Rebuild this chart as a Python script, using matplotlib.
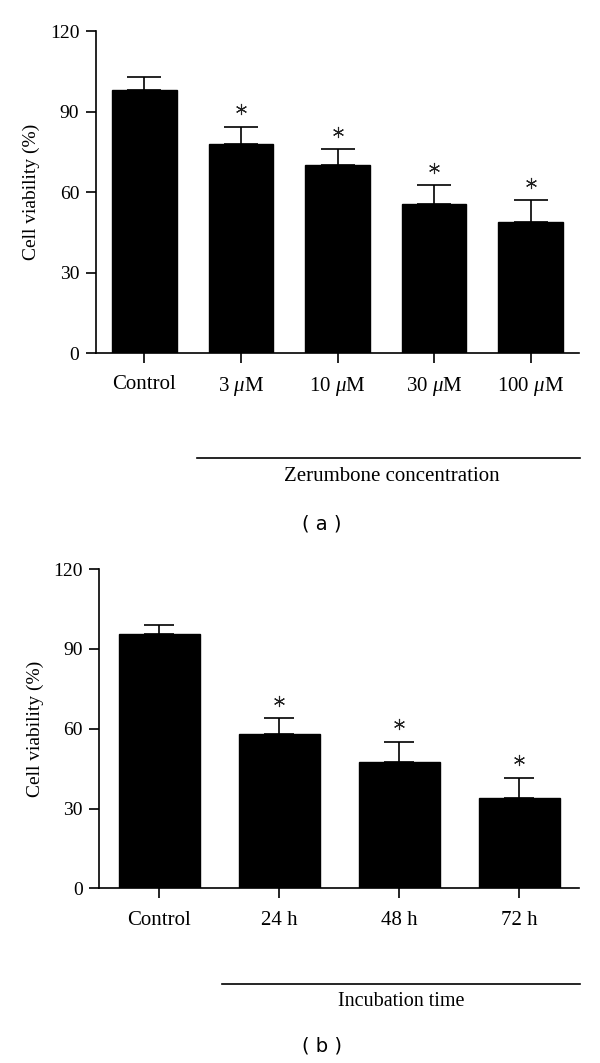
import matplotlib.pyplot as plt

plt.rcParams['font.family'] = ['Liberation Serif', 'DejaVu Serif']
plt.rcParams['mathtext.fontset'] = 'custom'
plt.rcParams['mathtext.rm'] = 'Liberation Serif'
plt.rcParams['mathtext.it'] = 'Liberation Serif:italic'

# panel (a): zerumbone concentration
CONC_LABELS = ['Control', '3 $\\mu$M', '10 $\\mu$M', '30 $\\mu$M', '100 $\\mu$M']
CONC_MEAN = [98, 78, 70, 55.5, 49]
CONC_ERR = [5, 6.3, 6, 7, 8]
CONC_SIG = [False, True, True, True, True]

# panel (b): incubation time
TIME_LABELS = ['Control', '24 h', '48 h', '72 h']
TIME_MEAN = [95.6, 58, 47.6, 33.8]
TIME_ERR = [3.5, 6, 7.5, 7.8]
TIME_SIG = [False, True, True, True]

Y_LABEL = 'Cell viability (%)'
STAR_GAP = 6.5  # data units above the error cap


def draw(ax, labels, means, errs, sig, capsize):
    x = list(range(len(labels)))
    ax.bar(x, means, width=0.67, color='black', edgecolor='black', zorder=2)
    ax.errorbar(x, means, yerr=[[0] * len(errs), errs], fmt='none',
                ecolor='black', elinewidth=1.2, capsize=capsize,
                capthick=1.2, zorder=1)
    sx = [xi for xi, s in zip(x, sig) if s]
    sy = [m + e + STAR_GAP for m, e, s in zip(means, errs, sig) if s]
    ax.plot(sx, sy, linestyle='none', marker=(6, 2, 0), markersize=8,
            markeredgewidth=0.8, color='#222222', clip_on=False)
    ax.set_xlim(-0.5, len(labels) - 0.5)
    ax.set_ylim(0, 120)
    ax.set_yticks([0, 30, 60, 90, 120])
    ax.set_xticks(x)
    ax.set_xticklabels(labels, fontsize=15)
    ax.spines['top'].set_visible(False)
    ax.spines['right'].set_visible(False)
    for sp in ['left', 'bottom']:
        ax.spines[sp].set_linewidth(1.2)
    ax.tick_params(axis='both', direction='out', length=7, width=1.2, pad=5)
    ax.tick_params(axis='y', labelsize=14)
    ax.tick_params(axis='x', pad=9)
    ax.set_ylabel(Y_LABEL, fontsize=14, labelpad=7)


fig = plt.figure(figsize=(6, 10.63), dpi=100)

ax1 = fig.add_axes([0.16, 0.6679, 0.805, 0.3029])
draw(ax1, CONC_LABELS, CONC_MEAN, CONC_ERR, CONC_SIG, 12)
fig.add_artist(plt.Line2D([197 / 600, 580 / 600], [1 - 458 / 1063] * 2,
                          color='black', linewidth=1.2))
fig.text(392 / 600, 1 - 477 / 1063, 'Zerumbone concentration',
         ha='center', va='center', fontsize=15)
fig.text(322 / 600, 1 - 524 / 1063, '( a )', ha='center', va='center',
         fontsize=14, family='DejaVu Sans')

ax2 = fig.add_axes([0.1658, 0.1643, 0.7997, 0.3004])
draw(ax2, TIME_LABELS, TIME_MEAN, TIME_ERR, TIME_SIG, 10.8)
fig.add_artist(plt.Line2D([222 / 600, 580 / 600], [1 - 984 / 1063] * 2,
                          color='black', linewidth=1.2))
fig.text(401 / 600, 1 - 1002 / 1063, 'Incubation time',
         ha='center', va='center', fontsize=14.5)
fig.text(322 / 600, 1 - 1046 / 1063, '( b )', ha='center', va='center',
         fontsize=14, family='DejaVu Sans')

fig.savefig('out.png', dpi=100)
